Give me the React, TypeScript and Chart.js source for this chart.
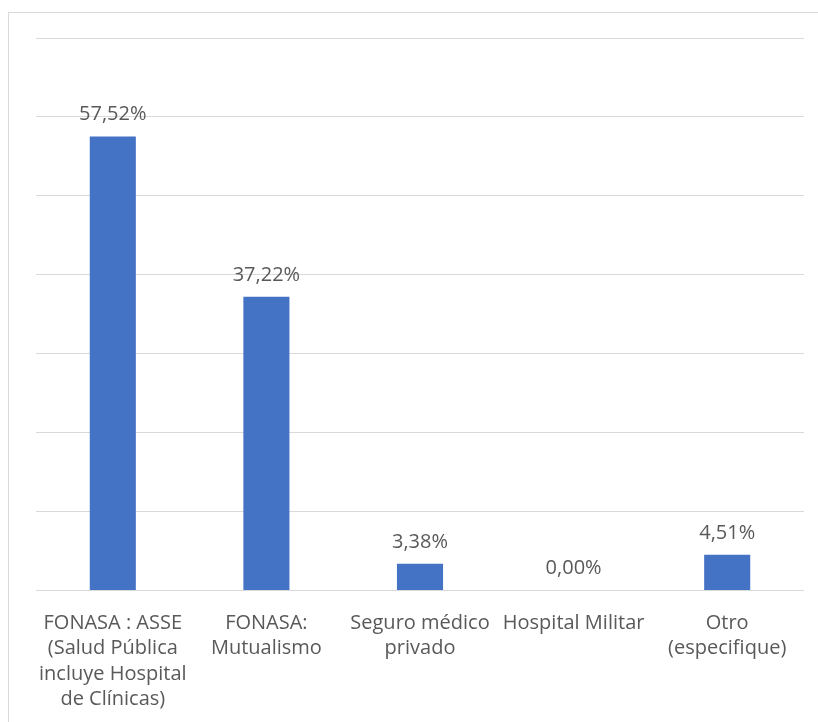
import React, { useEffect, useRef } from "react";
import { Chart, registerables } from "chart.js";

Chart.register(...registerables);

const categories: string[][] = [
  ["FONASA : ASSE", "(Salud Pública", "incluye Hospital", "de Clínicas)"],
  ["FONASA:", "Mutualismo"],
  ["Seguro médico", "privado"],
  ["Hospital Militar"],
  ["Otro", "(especifique)"],
];
const values: number[] = [57.52, 37.22, 3.38, 0.0, 4.51];
const yMax = 70;
const yStep = 10;

const BAR = "#4472C4";
const TEXT = "#595959";
const GRID = "#D9D9D9";
const FONT = "'Open Sans', sans-serif";

const fmt = (v: number) => v.toFixed(2).replace(".", ",") + "%";

const valueLabels = {
  id: "valueLabels",
  afterDatasetsDraw(chart: any) {
    const ctx = chart.ctx;
    const meta = chart.getDatasetMeta(0);
    ctx.save();
    ctx.fillStyle = TEXT;
    ctx.font = `20px ${FONT}`;
    ctx.textAlign = "center";
    ctx.textBaseline = "alphabetic";
    meta.data.forEach((bar: any, i: number) => {
      ctx.fillText(fmt(values[i]), bar.x, bar.y - 16);
    });
    ctx.restore();
  },
};

export default function App() {
  const ref = useRef<HTMLCanvasElement | null>(null);
  useEffect(() => {
    if (!ref.current) return;
    const chart = new Chart(ref.current, {
      type: "bar",
      data: {
        labels: categories,
        datasets: [
          {
            data: values,
            backgroundColor: BAR,
            borderWidth: 0,
            barPercentage: 0.3,
            categoryPercentage: 1,
          },
        ],
      },
      options: {
        animation: false,
        responsive: false,
        maintainAspectRatio: false,
        layout: { padding: { left: 36, right: 14, top: 38, bottom: 4 } },
        plugins: {
          legend: { display: false },
          tooltip: { enabled: false },
        },
        scales: {
          x: {
            grid: { display: false, drawTicks: false },
            border: { display: false },
            ticks: {
              color: TEXT,
              font: { family: FONT, size: 20, lineHeight: 1.27 },
              padding: 20,
              maxRotation: 0,
              autoSkip: false,
            },
          },
          y: {
            min: 0,
            max: yMax,
            ticks: { display: false, stepSize: yStep },
            grid: { color: GRID, lineWidth: 1, drawTicks: false, tickLength: 0 },
            border: { display: false },
          },
        },
      },
      plugins: [valueLabels],
    });
    return () => chart.destroy();
  }, []);

  return (
    <div style={{ position: "fixed", inset: 0, overflow: "hidden", background: "#fff" }}>
      <div
        style={{
          position: "absolute",
          left: 8,
          top: 12,
          width: 900,
          height: 800,
          borderLeft: `1px solid ${GRID}`,
          borderTop: `1px solid ${GRID}`,
        }}
      />
      <canvas
        ref={ref}
        width={818}
        height={736}
        style={{ position: "absolute", left: 0, top: 0, width: 818, height: 736 }}
      />
    </div>
  );
}
